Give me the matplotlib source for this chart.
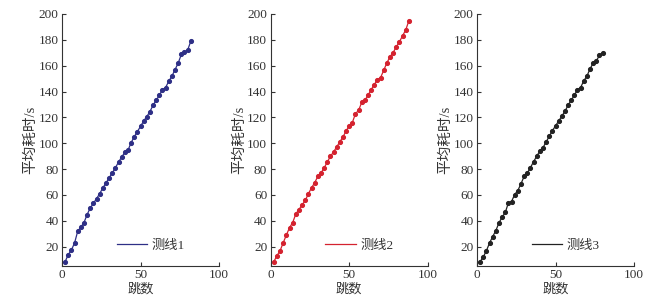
import matplotlib
matplotlib.use("Agg")
import matplotlib.pyplot as plt
import numpy as np

plt.rcParams['font.family'] = ['Liberation Serif', 'Noto Sans CJK SC', 'DejaVu Sans']
plt.rcParams['font.size'] = 9.5

x1 = list(range(2, 83, 2))
y1 = [8.4, 13.8, 17.4, 22.8, 31.9, 35, 38.6, 44.8, 50, 53.4, 57.2, 60.9, 65.5, 69.1,
      73.3, 76.9, 81, 85.4, 89.3, 92.9, 94.5, 100.4, 105, 109, 113, 117.2, 120.6,
      124.5, 129.4, 133.3, 137.1, 141.5, 143.1, 148, 151.9, 157, 162, 168.7, 170.5,
      172, 178.8]
x2 = list(range(2, 89, 2))
y2 = [8.4, 13, 16.9, 23.1, 29, 34.7, 38.6, 45.3, 48.7, 52.3, 55.7, 60.9, 65.5, 69.4,
      74.3, 76.9, 80.8, 85.4, 89.8, 93.2, 97.1, 101, 104.8, 109.5, 113.4, 116, 122.9,
      125.5, 131.7, 133.3, 137.1, 141.5, 145.4, 149.3, 150.8, 156.5, 162.2, 166.9,
      170.2, 174.6, 178.5, 183.2, 187.6, 194.8]
x3 = list(range(2, 81, 2))
y3 = [8.4, 12, 16.9, 22.8, 27.8, 32.4, 38.4, 42.8, 46.4, 53.9, 54.9, 60.3, 63.4, 68.6,
      74.3, 76.9, 81, 85.7, 89.8, 94, 96.5, 101, 105.3, 109.7, 113.4, 117.2, 120.9,
      124.7, 129.4, 133.3, 137.1, 141.5, 143.1, 148.3, 151.9, 157.6, 162, 163.8,
      167.9, 170.2]

series = [(x1, y1, '测线1', '#2e2f86'), (x2, y2, '测线2', '#d4222f'), (x3, y3, '测线3', '#222222')]
xticks = [0, 50, 100]
yticks = list(range(20, 201, 20))

W, H = 661, 299
fig = plt.figure(figsize=(W / 100, H / 100), dpi=100)
lefts = [62, 270.7, 477]
bottom_px, top_px = 266, 14
width_px = 157

for (xs, ys, lab, col), lp in zip(series, lefts):
    ax = fig.add_axes([lp / W, 1 - bottom_px / H, width_px / W, (bottom_px - top_px) / H])
    ax.plot(xs, ys, color=col, lw=0.9, label=lab)
    ax.plot(xs, ys, linestyle='none', marker='o', ms=2.7, color=col)
    ax.set_xlim(0, 100)
    ax.set_ylim(5, 200)
    ax.set_xticks(xticks)
    ax.set_yticks(yticks)
    for s in ['top', 'right']:
        ax.spines[s].set_visible(False)
    for s in ['left', 'bottom']:
        ax.spines[s].set_linewidth(0.8)
        ax.spines[s].set_color('#333333')
    ax.tick_params(direction='in', length=3, width=0.8, pad=2.5, colors='#333333',
                   labelcolor='#333333', labelsize=9.5)
    ax.set_ylabel('平均耗时/s', fontsize=10.5, color='#333333', labelpad=1)
    ax.set_xlabel('跳数', fontsize=9.5, color='#333333', labelpad=1)
    ax.legend(loc='center left', bbox_to_anchor=(0.315, 0.08), frameon=False,
              handlelength=2.3, handletextpad=0.35, fontsize=9.5,
              labelcolor='#333333', borderaxespad=0)

fig.savefig('out.png', dpi=100)
